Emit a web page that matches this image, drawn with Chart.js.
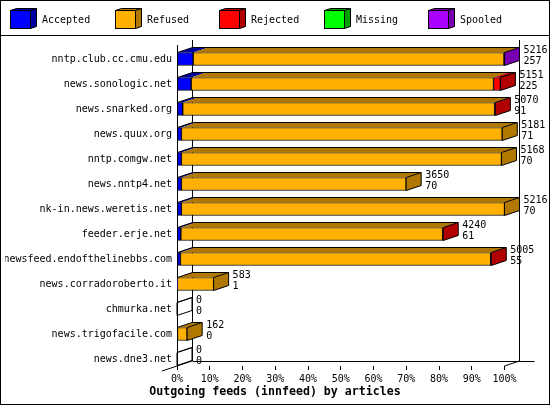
<!DOCTYPE html>
<html>
<head>
<meta charset="utf-8">
<script src="https://cdn.jsdelivr.net/npm/chart.js@4.4.1/dist/chart.umd.min.js"></script>
<style>
  html, body { margin: 0; padding: 0; background: #fff; }
  canvas { display: block; }
</style>
</head>
<body>
<canvas id="feeds" width="550" height="405"></canvas>
<script>
(function () {
  const servers = [
    "nntp.club.cc.cmu.edu",
    "news.sonologic.net",
    "news.snarked.org",
    "news.quux.org",
    "nntp.comgw.net",
    "news.nntp4.net",
    "nk-in.news.weretis.net",
    "feeder.erje.net",
    "newsfeed.endofthelinebbs.com",
    "news.corradoroberto.it",
    "chmurka.net",
    "news.trigofacile.com",
    "news.dne3.net"
  ];

  // articles offered / accepted, as printed at the end of each bar
  const offered = [5216, 5151, 5070, 5181, 5168, 3650, 5216, 4240, 5005, 583, 0, 162, 0];
  const accepted = [257, 225, 91, 71, 70, 70, 70, 61, 55, 1, 0, 0, 0];
  const refused = [4951, 4816, 4967, 5110, 5098, 3580, 5146, 4169, 4940, 582, 0, 162, 0];
  const rejected = [0, 110, 12, 0, 0, 0, 0, 10, 10, 0, 0, 0, 0];
  const missing = [0, 0, 0, 0, 0, 0, 0, 0, 0, 0, 0, 0, 0];
  const spooled = [8, 0, 0, 0, 0, 0, 0, 0, 0, 0, 0, 0, 0];

  const seriesNames = ["Accepted", "Refused", "Rejected", "Missing", "Spooled"];
  const seriesValues = [accepted, refused, rejected, missing, spooled];
  const tickLabels = ["0%", "10%", "20%", "30%", "40%", "50%", "60%", "70%", "80%", "90%", "100%"];

  const frontColors = ["#0000ff", "#ffb000", "#ff0000", "#00ff00", "#aa00ff"];
  const sideColors = ["#0000a0", "#b07800", "#b00000", "#00a000", "#7800b0"];

  const maxOffered = Math.max(...offered);
  const MONO = "'DejaVu Sans Mono', monospace";
  const DX = 15;
  const DY = 5;

  function crisp(v) {
    return Math.round(v - 0.5) + 0.5;
  }

  function seg(ctx, x1, y1, x2, y2) {
    ctx.beginPath();
    ctx.moveTo(x1, y1);
    ctx.lineTo(x2, y2);
    ctx.stroke();
  }

  // back wall and floor of the 3d box
  const frame3d = {
    id: "frame3d",
    beforeDatasetsDraw(chart) {
      const { ctx, chartArea: a } = chart;
      const floorFront = a.bottom - 5.5;
      const floorBack = floorFront - DY;
      const backL = crisp(a.left + DX);
      const backR = crisp(a.right + DX);

      ctx.save();
      ctx.strokeStyle = "#000";
      ctx.lineWidth = 1;
      seg(ctx, backL, a.top - 6.5, backL, floorBack);
      seg(ctx, backR, a.top - 6.5, backR, floorBack);
      seg(ctx, backL, crisp(floorBack), a.right + DX * 2, crisp(floorBack));
      seg(ctx, a.left - DX, floorFront + DY, a.left + DX, floorBack);
      seg(ctx, a.right, floorFront, a.right + DX, floorBack);
      seg(ctx, crisp(a.left), a.top - 1.5, crisp(a.left), floorFront + 2);
      ctx.restore();
    },
    afterDatasetsDraw(chart) {
      const ctx = chart.ctx;
      const datasets = chart.data.datasets;
      const metas = datasets.map((_, d) => chart.getDatasetMeta(d));

      ctx.save();
      ctx.lineWidth = 1;
      ctx.strokeStyle = "#000";

      servers.forEach((_, i) => {
        let start = null;
        let end = null;
        let top = 0;
        let bottom = 0;
        let center = 0;
        let side = null;

        metas.forEach((meta, d) => {
          const bar = meta.data[i].getProps(["x", "base", "y", "height"], true);
          top = bar.y - bar.height / 2;
          bottom = bar.y + bar.height / 2;
          center = bar.y;
          if (start === null) start = bar.base;
          if (!datasets[d].data[i]) return;

          end = bar.x;
          side = sideColors[d];
          ctx.fillStyle = side;
          ctx.beginPath();
          ctx.moveTo(bar.base, top);
          ctx.lineTo(bar.x, top);
          ctx.lineTo(bar.x + DX, top - DY);
          ctx.lineTo(bar.base + DX, top - DY);
          ctx.closePath();
          ctx.fill();
        });

        if (end === null) end = start;

        ctx.beginPath();
        ctx.moveTo(start, top);
        ctx.lineTo(start + DX, top - DY);
        ctx.lineTo(end + DX, top - DY);
        ctx.stroke();

        ctx.beginPath();
        ctx.moveTo(end, top);
        ctx.lineTo(end + DX, top - DY);
        ctx.lineTo(end + DX, bottom - DY);
        ctx.lineTo(end, bottom);
        ctx.closePath();
        if (side) {
          ctx.fillStyle = side;
          ctx.fill();
        }
        ctx.stroke();

        ctx.fillStyle = "#000";
        ctx.font = `10px ${MONO}`;
        ctx.textAlign = "left";
        ctx.textBaseline = "middle";
        ctx.fillText(String(offered[i]), end + DX + 4, center - 9);
        ctx.fillText(String(accepted[i]), end + DX + 4, center + 2.5);
      });

      ctx.restore();
    },
    afterDraw(chart) {
      const ctx = chart.ctx;
      ctx.save();
      ctx.strokeStyle = "#000";
      ctx.lineWidth = 1;
      ctx.strokeRect(0.5, 0.5, chart.width - 1, chart.height - 1);
      seg(ctx, 0, 35.5, chart.width, 35.5);

      // legend with little cubes
      chart.data.datasets.forEach((ds, i) => {
        const x = Math.round(10 + i * 104.6) + 0.5;
        ctx.fillStyle = sideColors[i];
        ctx.beginPath();
        ctx.moveTo(x, 10.5);
        ctx.lineTo(x + 6, 8.5);
        ctx.lineTo(x + 26, 8.5);
        ctx.lineTo(x + 26, 26.5);
        ctx.lineTo(x + 20, 28.5);
        ctx.lineTo(x + 20, 10.5);
        ctx.closePath();
        ctx.fill();
        ctx.stroke();
        seg(ctx, x + 20, 10.5, x + 26, 8.5);
        ctx.fillStyle = ds.backgroundColor;
        ctx.fillRect(x, 10.5, 20, 18);
        ctx.strokeRect(x, 10.5, 20, 18);

        ctx.fillStyle = "#000";
        ctx.font = `10px ${MONO}`;
        ctx.textAlign = "left";
        ctx.textBaseline = "middle";
        ctx.fillText(ds.label, x + 31.5, 20);
      });

      ctx.font = `bold 11.6px ${MONO}`;
      ctx.textAlign = "center";
      ctx.textBaseline = "middle";
      ctx.fillText("Outgoing feeds (innfeed) by articles", chart.width / 2, 392);
      ctx.restore();
    }
  };

  new Chart(document.getElementById("feeds"), {
    type: "bar",
    data: {
      labels: servers,
      datasets: seriesNames.map((name, i) => ({
        label: name,
        data: seriesValues[i],
        backgroundColor: frontColors[i],
        borderColor: "#000",
        borderWidth: 1,
        borderSkipped: false,
        barThickness: 13
      }))
    },
    options: {
      indexAxis: "y",
      responsive: false,
      animation: false,
      events: [],
      layout: {
        padding: { left: 5, right: 45.5, top: 46.5, bottom: 33.5 }
      },
      plugins: {
        legend: { display: false },
        tooltip: { enabled: false },
        title: { display: false }
      },
      scales: {
        x: {
          type: "linear",
          stacked: true,
          min: 0,
          max: maxOffered,
          position: { y: servers.length - 1 + 0.28 },
          border: { display: false },
          grid: { drawOnChartArea: false, tickLength: 4, color: "#000" },
          afterBuildTicks(scale) {
            scale.ticks = tickLabels.map((_, i) => ({ value: maxOffered * i / (tickLabels.length - 1) }));
          },
          ticks: {
            color: "#000",
            font: { family: MONO, size: 10 },
            padding: 3,
            maxRotation: 0,
            autoSkip: false,
            callback(value, index) {
              return tickLabels[index];
            }
          }
        },
        y: {
          stacked: true,
          border: { display: false },
          grid: { display: false, drawTicks: false },
          afterFit(scale) {
            scale.width = 172;
          },
          ticks: {
            color: "#000",
            font: { family: MONO, size: 10 },
            padding: 5,
            autoSkip: false
          }
        }
      }
    },
    plugins: [frame3d]
  });
})();
</script>
</body>
</html>
